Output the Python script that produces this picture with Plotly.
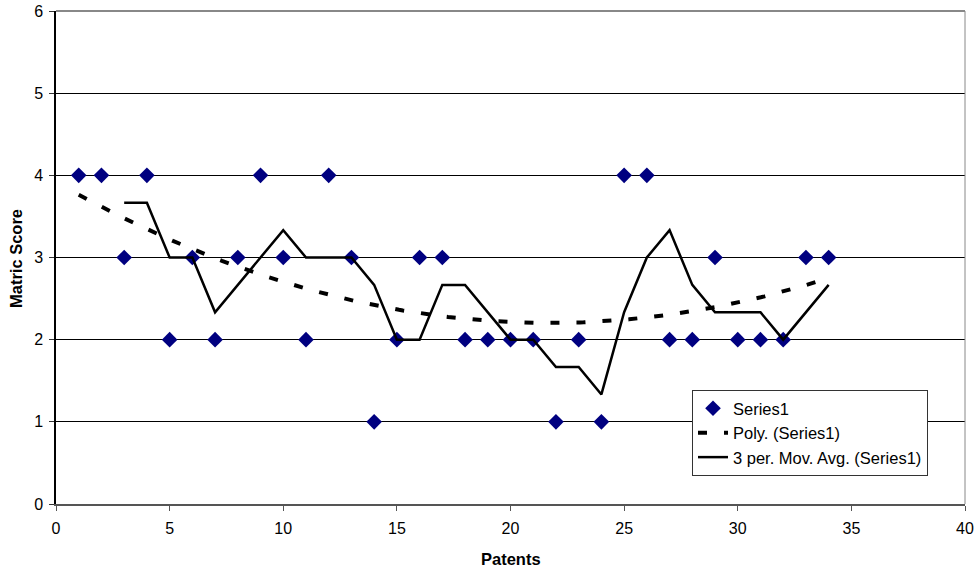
import numpy as np
import plotly.graph_objects as go

# Patent index and matric score
patents = list(range(1, 35))
scores = [4, 4, 3, 4, 2, 3, 2, 3, 4, 3,
          2, 4, 3, 1, 2, 3, 3, 2, 2, 2,
          2, 1, 2, 1, 4, 4, 2, 2, 3, 2,
          2, 2, 3, 3]

x_ticks = [0, 5, 10, 15, 20, 25, 30, 35, 40]
y_ticks = [0, 1, 2, 3, 4, 5, 6]

# Trendlines derived from the series
x = np.array(patents, dtype=float)
y = np.array(scores, dtype=float)
coef = np.polyfit(x, y, 2)
poly_x = np.linspace(x.min(), x.max(), 200)
poly_y = np.polyval(coef, poly_x)

ma_x = x[2:]
ma_y = np.convolve(y, np.ones(3) / 3, mode="valid")

font = "Liberation Sans, Arial, sans-serif"
W, H = 979, 574
L, R, T, B = 56, 14, 11, 70
pw, ph = W - L - R, H - T - B

fig = go.Figure()
fig.add_trace(go.Scatter(
    x=patents, y=scores, mode="markers", name="Series1",
    marker=dict(symbol="diamond", size=12, color="#000080",
                line=dict(width=0)),
))
fig.add_trace(go.Scatter(
    x=poly_x, y=poly_y, mode="lines", name="Poly. (Series1)",
    line=dict(color="black", width=4, dash="9px,17px"),
))
fig.add_trace(go.Scatter(
    x=ma_x, y=ma_y, mode="lines", name="3 per. Mov. Avg. (Series1)",
    line=dict(color="black", width=2.5),
))

fig.update_layout(
    width=W, height=H,
    margin=dict(l=L, r=R, t=T, b=B),
    paper_bgcolor="white", plot_bgcolor="white",
    font=dict(family=font, size=16, color="black"),
    showlegend=True,
    legend=dict(
        x=(692 - L) / pw, y=1 - (390 - T) / ph,
        xanchor="left", yanchor="top",
        bgcolor="white", bordercolor="#333333", borderwidth=1,
        font=dict(family=font, size=16.5),
        tracegroupgap=0, itemsizing="trace",
    ),
    xaxis=dict(
        range=[0, 40], tickvals=x_ticks, ticks="outside", ticklen=5,
        tickcolor="#555555", showgrid=False, zeroline=False,
        showline=True, linecolor="#555555", linewidth=2, mirror=False,
        automargin=False, tickfont=dict(size=16), ticklabelstandoff=4,
    ),
    yaxis=dict(
        range=[0, 6], tickvals=y_ticks, ticks="outside", ticklen=5,
        tickcolor="#333333", showgrid=True, gridcolor="black", gridwidth=1,
        zeroline=False, showline=True, linecolor="black", linewidth=1.5,
        automargin=False, tickfont=dict(size=16), ticklabelstandoff=3,
    ),
    annotations=[
        dict(text="<b>Patents</b>", xref="paper", yref="paper",
             x=0.5, y=-(559 - (T + ph)) / ph, xanchor="center",
             yanchor="middle", showarrow=False, font=dict(size=16.5)),
        dict(text="<b>Matric Score</b>", xref="paper", yref="paper",
             x=-(L - 16) / pw, y=1 - (259 - T) / ph, xanchor="center",
             yanchor="middle", textangle=-90, showarrow=False,
             font=dict(size=16.5)),
    ],
)

# Right-hand frame edge of the plot area
fig.add_shape(type="line", xref="paper", yref="paper",
              x0=1, x1=1, y0=0, y1=1,
              line=dict(color="#888888", width=1))
# Top edge drawn in grey
fig.add_shape(type="line", xref="paper", yref="paper",
              x0=0, x1=1, y0=1, y1=1,
              line=dict(color="#888888", width=2))

fig.write_html("out.html")
